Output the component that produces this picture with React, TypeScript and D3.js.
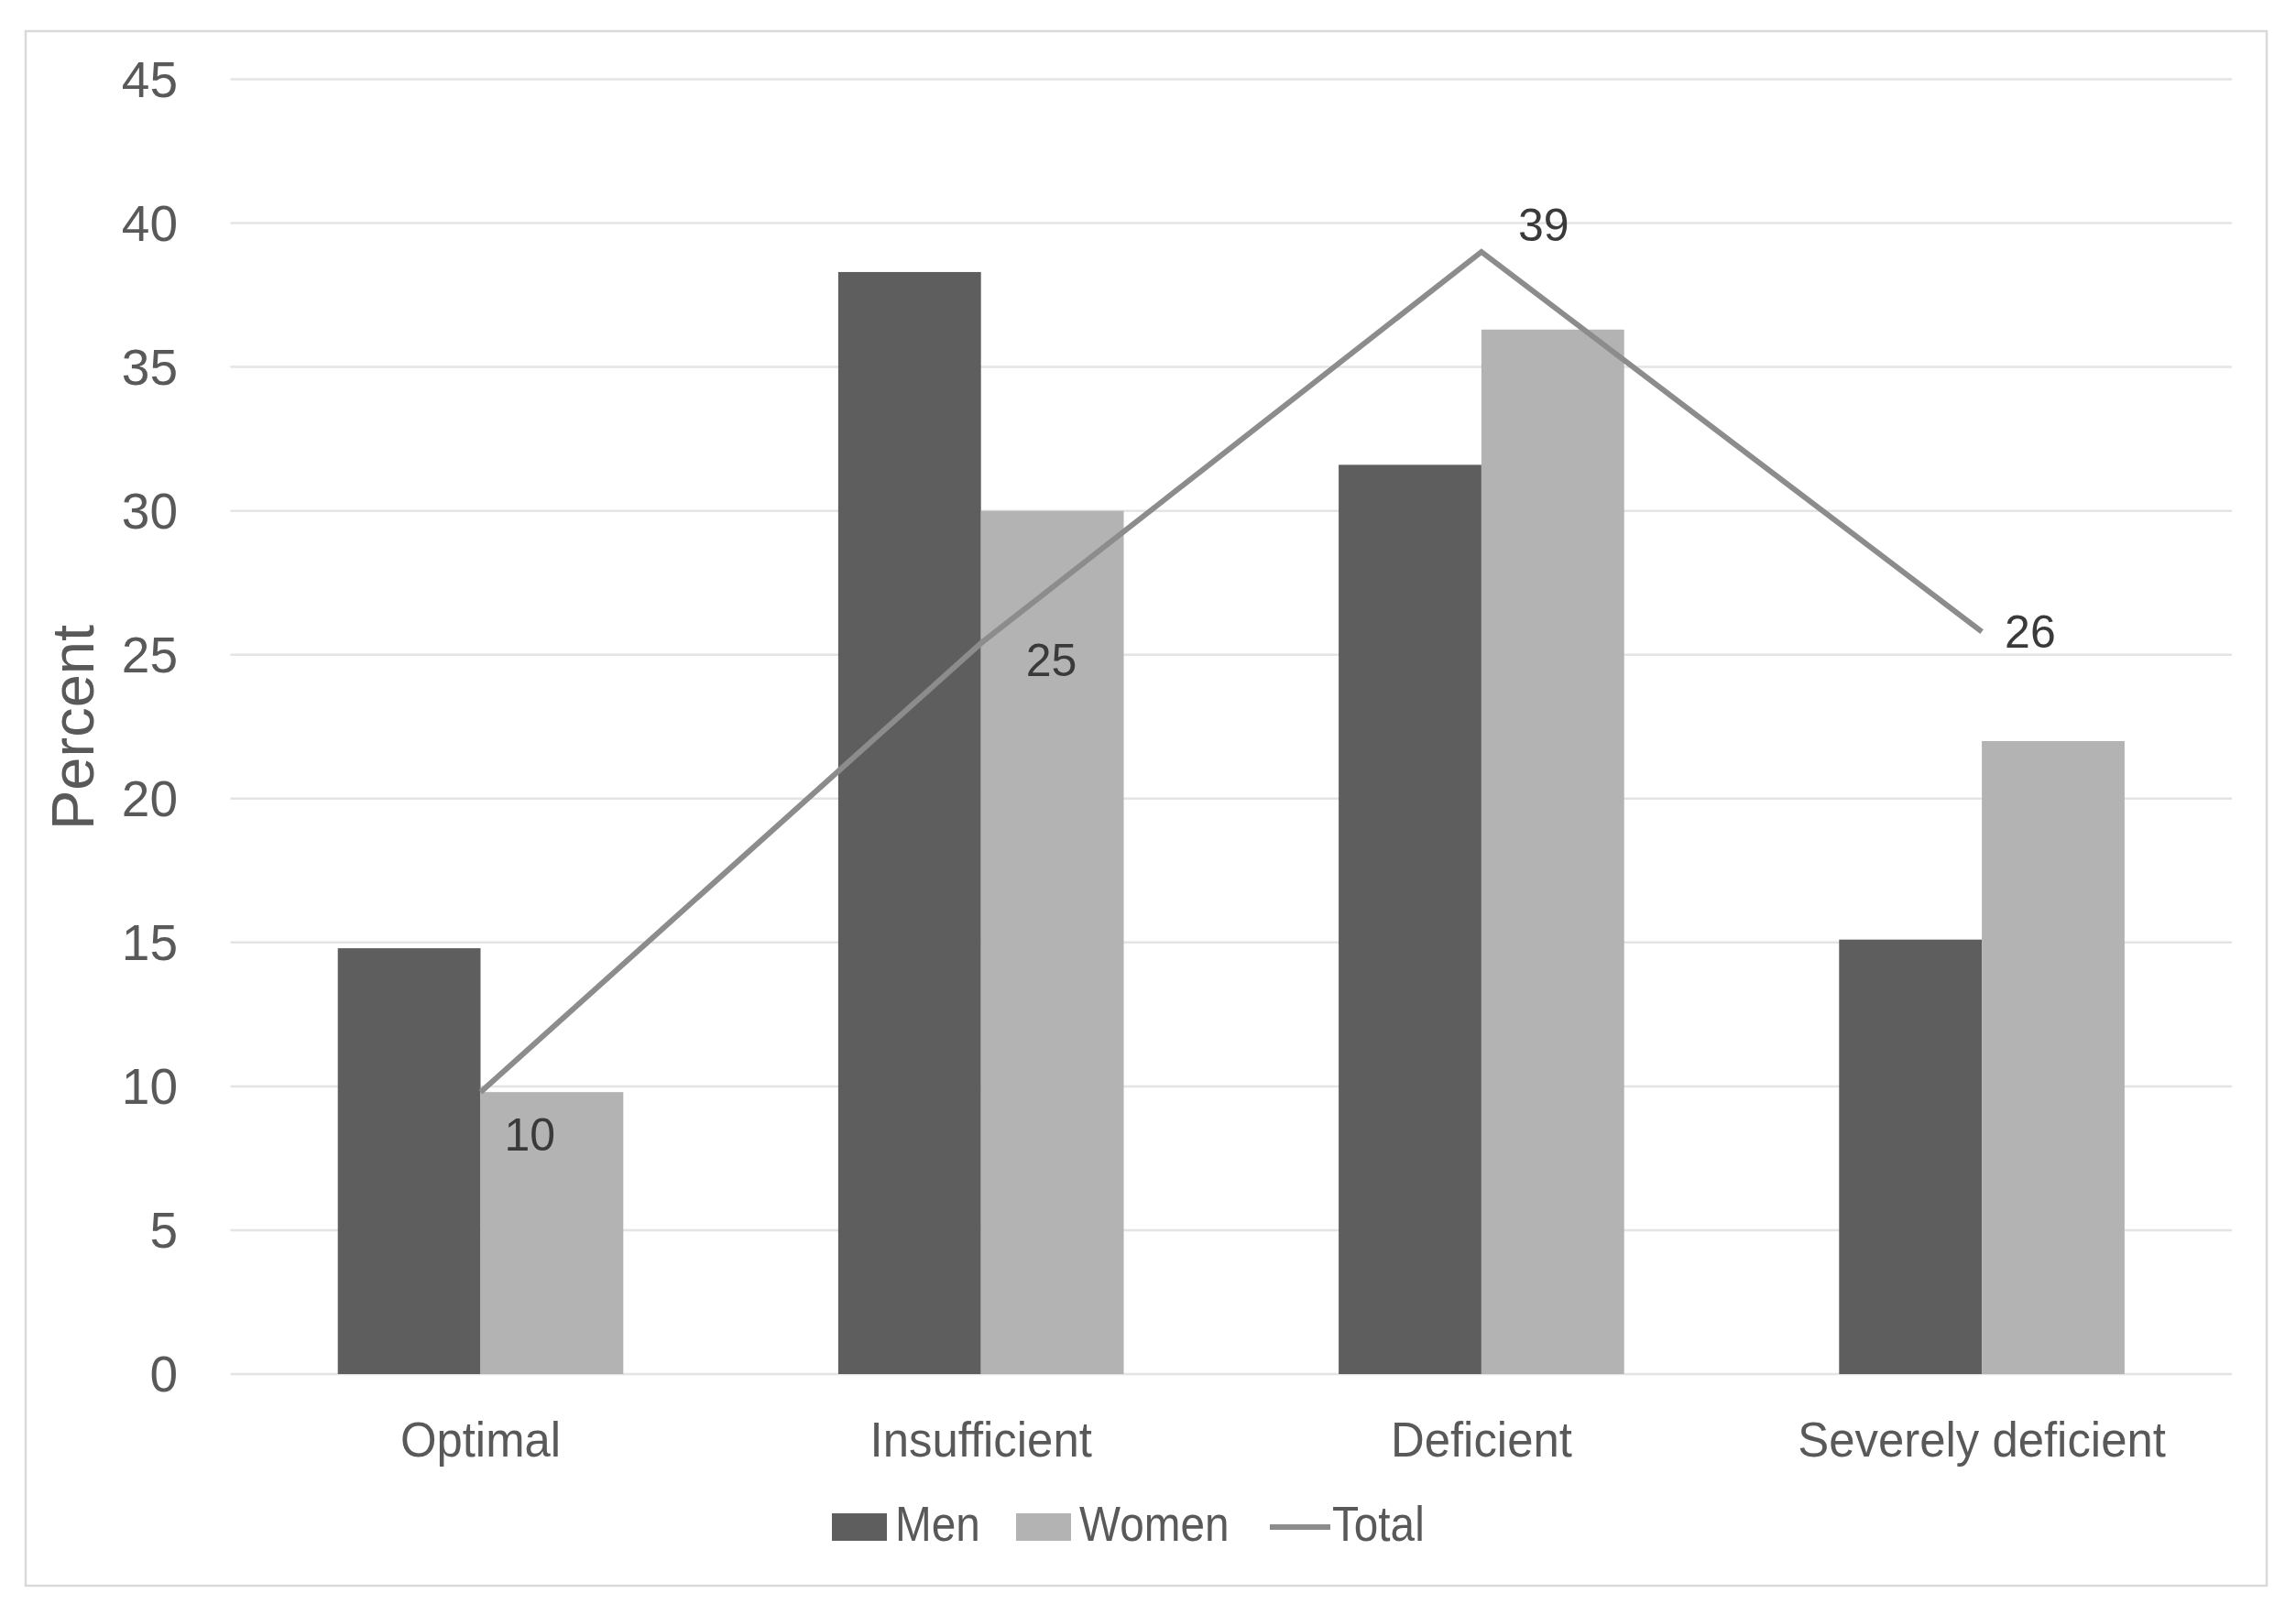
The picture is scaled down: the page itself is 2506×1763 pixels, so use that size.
import React from "react";
import * as d3 from "d3";

const categories = ["Optimal", "Insufficient", "Deficient", "Severely deficient"];
const seriesNames = ["Men", "Women"];
const menValues = [14.8, 38.3, 31.6, 15.1];
const womenValues = [9.8, 30.0, 36.3, 22.0];
const totalValues = [9.8, 25.4, 39.0, 25.8];
const totalLabels = ["10", "25", "39", "26"];
const yTicks = [0, 5, 10, 15, 20, 25, 30, 35, 40, 45];

const W = 2506;
const H = 1763;
const plot = { left: 251.4, right: 2436.2, top: 86.5, bottom: 1500 };
const FONT = "'Liberation Sans', Arial, sans-serif";
const colors: Record<string, string> = { Men: "#5e5e5e", Women: "#b3b3b3", Total: "#8c8c8c" };
// label offsets (dx, dy of text start/baseline relative to point)
const labelOffsets = [
  [26, 64],
  [49, 36],
  [40, -12],
  [25, 17],
];

export default function App() {
  const x = d3
    .scaleBand<string>()
    .domain(categories)
    .range([plot.left, plot.right])
    .paddingInner(0.4295)
    .paddingOuter(0.21475);
  const xs = d3.scaleBand<string>().domain(seriesNames).range([0, x.bandwidth()]);
  const y = d3.scaleLinear().domain([0, 45]).range([plot.bottom, plot.top]);

  const seriesData: Record<string, number[]> = { Men: menValues, Women: womenValues };
  const cx = (c: string) => (x(c) as number) + x.bandwidth() / 2;

  const lineGen = d3
    .line<number>()
    .x((_, i) => cx(categories[i]))
    .y((d) => y(d));

  const legendItems = [
    { name: "Men", kind: "rect", sx: 908, tx: 977 },
    { name: "Women", kind: "rect", sx: 1109, tx: 1178 },
    { name: "Total", kind: "line", sx: 1386, tx: 1454 },
  ];

  return (
    <svg
      width={W}
      height={H}
      viewBox={`0 0 ${W} ${H}`}
      style={{ position: "absolute", left: 0, top: 0, display: "block", background: "#fff" }}
    >
      <rect x={0} y={0} width={W} height={H} fill="#ffffff" />
      <rect x={28} y={34} width={2446} height={1697} fill="#ffffff" stroke="#d9d9d9" strokeWidth={2.5} />

      {/* gridlines */}
      {yTicks.map((t) => (
        <line
          key={"g" + t}
          x1={plot.left}
          x2={plot.right}
          y1={y(t)}
          y2={y(t)}
          stroke="#e4e4e4"
          strokeWidth={2.5}
        />
      ))}

      {/* y tick labels */}
      {yTicks.map((t) => (
        <text
          key={"t" + t}
          x={194}
          y={y(t)}
          dy="0.35em"
          textAnchor="end"
          fontFamily={FONT}
          fontSize={55}
          fill="#595959"
        >
          {t}
        </text>
      ))}

      {/* y axis title */}
      <text
        transform={`translate(102, 794) rotate(-90)`}
        textAnchor="middle"
        fontFamily={FONT}
        fontSize={65}
        fill="#595959"
      >
        Percent
      </text>

      {/* bars */}
      {categories.map((c, ci) =>
        seriesNames.map((s) => {
          const v = seriesData[s][ci];
          return (
            <rect
              key={c + s}
              x={(x(c) as number) + (xs(s) as number)}
              y={y(v)}
              width={xs.bandwidth()}
              height={y(0) - y(v)}
              fill={colors[s]}
            />
          );
        })
      )}

      {/* total line */}
      <path d={lineGen(totalValues) || ""} fill="none" stroke={colors.Total} strokeWidth={6} strokeLinejoin="miter" />

      {/* total labels */}
      {totalValues.map((v, i) => (
        <text
          key={"l" + i}
          x={cx(categories[i]) + labelOffsets[i][0]}
          y={y(v) + labelOffsets[i][1]}
          fontFamily={FONT}
          fontSize={50}
          fill="#3a3a3a"
        >
          {totalLabels[i]}
        </text>
      ))}

      {/* category labels */}
      {categories.map((c) => (
        <text
          key={"c" + c}
          transform={`translate(${cx(c)}, 1590) scale(0.96, 1)`}
          textAnchor="middle"
          fontFamily={FONT}
          fontSize={53}
          fill="#595959"
        >
          {c}
        </text>
      ))}

      {/* legend */}
      {legendItems.map((it) => (
        <g key={"lg" + it.name}>
          {it.kind === "rect" ? (
            <rect x={it.sx} y={1652} width={60} height={30} fill={colors[it.name]} />
          ) : (
            <line x1={it.sx} x2={it.sx + 66} y1={1667} y2={1667} stroke={colors[it.name]} strokeWidth={6} />
          )}
          <text
            transform={`translate(${it.tx}, 1682) scale(0.9, 1)`}
            fontFamily={FONT}
            fontSize={53}
            fill="#595959"
          >
            {it.name}
          </text>
        </g>
      ))}
    </svg>
  );
}
